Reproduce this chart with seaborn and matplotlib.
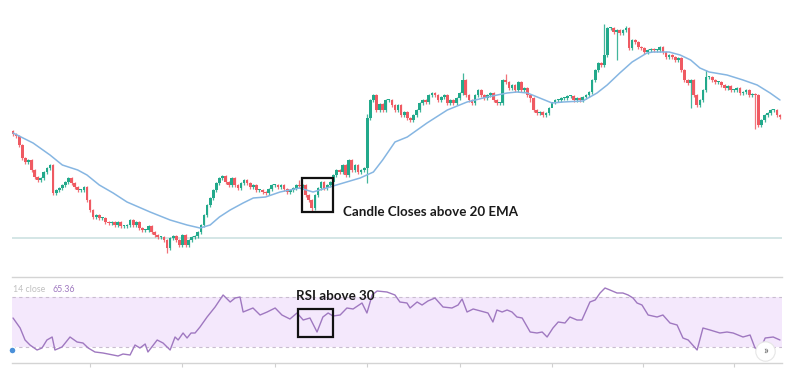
import matplotlib
matplotlib.use("Agg")
import matplotlib.pyplot as plt
import pandas as pd
import seaborn as sns

# candle closes (price units), left to right
closes = [
    126, 124, 115, 102, 98, 100, 90, 83, 80, 82, 88, 92, 95, 67, 70, 72, 75, 78, 82, 77,
    73, 70, 70, 73, 60, 50, 43, 45, 42, 42, 38, 37, 38, 35, 38, 34, 34, 35,
    40, 35, 38, 32, 30, 30, 34, 28, 25, 23, 23, 20, 12, 22, 24, 20, 15, 25, 15, 20,
    23, 24, 28, 35, 45, 55, 62, 70, 77, 82, 84, 78, 75, 82, 75, 72, 77, 80, 77, 73,
    75, 70, 70,
    68, 67, 71, 75, 75, 73, 75, 71, 68, 70, 72, 75, 74, 75, 65, 60, 52, 65, 72, 78,
    72, 75, 78, 85, 90, 88, 95, 85, 100, 90, 95, 88, 90, 92, 142, 160, 165, 150, 156, 150,
    160,
    160, 155, 150, 155, 145, 148, 142, 140, 145, 150, 157, 160, 158, 165, 167, 165, 160, 163, 165, 157,
    160, 157, 162, 167, 180, 165, 160, 157, 165, 170, 165, 162, 165, 167, 160, 157, 157, 180, 178, 172,
    175, 170, 178, 170, 172,
    165, 162, 150, 147, 148, 145, 147, 152, 158, 160, 160, 162, 162, 164, 164, 160, 162, 160, 163, 165,
    168, 180, 190, 197, 195, 205, 232, 232, 228, 230, 227, 230, 232, 212, 220, 218, 213, 212, 208, 210,
    211, 210, 210, 213, 208, 203, 205, 203, 200, 202, 190, 180, 177, 180, 165, 155, 160, 170, 183, 183,
    180, 178, 178, 175, 172, 174, 170, 170, 172, 167, 168, 170, 165, 166, 165, 135, 140, 145, 147, 150,
    150, 145, 143,
]
first_open = 129
long_highs = {93: 80, 115: 146, 146: 187, 160: 186, 192: 236, 199: 234, 225: 190, 175: 150}
long_lows = {50: 7, 115: 77, 97: 49, 168: 158, 196: 200, 220: 152, 241: 131}
support_level = 22

# 20 EMA samples (candle index, price)
ema_idx = [0, 6.5, 12, 16, 21, 24, 28, 32.5, 37, 44.5, 51, 56.5, 60.7, 64, 67, 70.5, 74.7, 78, 82, 86.7,
           93, 97.4, 105, 112.7, 117, 120, 124, 128, 134.4, 141, 147.4, 154, 160.4, 163.6, 167, 171, 175,
           178.6, 185, 189.6, 192.9, 197, 201, 205.8, 207.8, 213, 216.6, 220, 223, 226, 231.8, 237,
           241.6, 245.8, 249]
ema_val = [127, 117, 105, 95, 90, 85, 75, 67, 58, 48, 40, 35, 32, 35, 43, 50, 57, 62, 63, 68,
           72, 68, 75, 82, 88, 100, 118, 123, 137, 150, 158, 163, 167, 168, 167, 162, 157,
           158, 159, 167, 175, 187, 198, 207, 208, 208, 205, 200, 192, 188, 185, 180,
           175, 167, 160]

# RSI samples (candle index, value)
rsi_idx = [0, 2.3, 3.9, 5.5, 7.8, 9.4, 11, 12.7, 13.6, 15.9, 18.5, 20.8, 22.7, 24.4, 26.6, 29.2, 32.5,
           34.1, 35.7, 38, 39.6, 41.2, 42.9, 43.8, 46.8, 48.7, 51, 52.6, 53.6, 55.2, 56.5, 57.8, 59.1,
           60.7, 63, 65.6, 68.2, 70.5, 72.1, 73.7, 74.7, 77.9, 80.2, 82.5, 85.1, 87.3, 89.9, 92.2, 94.2,
           96.4, 98.7, 100.6, 102.3, 103.9, 106.2, 108.4, 110.4, 113.3, 114.9, 116.6, 118.2, 121.4, 124,
           125.6, 127.9, 128.9, 131.2, 132.8, 134.7, 137, 139.6, 142.5, 144.5, 145.8, 147.4, 149.4,
           154.2, 155.8, 157.1, 158.8, 160.4, 162, 163.6, 165.3, 167.9, 170.1, 171.8, 173.4, 175.3, 177,
           179.2, 180.8, 183.1, 184.7, 187.3, 189, 190.6, 192.2, 193.8, 196.1, 198, 199.7, 201.3, 202.6,
           204.2, 206.2, 209.1, 211, 213.3, 215.6, 217.5, 219.2, 222.1, 224, 226.3, 229.5, 231.8, 233.8,
           237, 239.3, 240.9, 242.5, 244.2, 246.8, 249]
rsi_val = [53.2, 45.2, 35.6, 31.6, 27.6, 29.2, 35.6, 38, 27.6, 30, 38, 34, 33.2, 29.2, 26, 25.2, 23.6,
           22.8, 24.4, 23.6, 31.6, 29.2, 32.4, 26, 35.6, 33.2, 27.6, 38, 35.6, 41.2, 37.2, 41.2, 41.2,
           46, 54, 62, 71.6, 66, 69.2, 70, 58, 61.2, 55.6, 58, 61.2, 55.6, 52.4, 57.2, 51.6,
           53.2, 42, 54, 57.2, 54.8, 55.6, 61.2, 60.4, 65.2, 57.2, 71.6, 74.8, 74, 71.6,
           66, 65.2, 61.2, 66, 63.6, 66.8, 69.2, 62, 61.2, 63.6, 68.4, 58, 60.4,
           57.2, 50, 59.6, 58, 59.6, 58, 54, 53.2, 42, 41.2, 42, 38, 45.2, 50,
           49.2, 54, 51.6, 51.6, 66, 67.6, 73.2, 77.2, 75.6, 73.2, 73.2, 71.6, 69.2, 65.2,
           63.6, 55.6, 54, 55.6, 49.2, 47.6, 37.2, 35.6, 27.6, 45.2, 43.6, 41.2, 42, 41.2,
           38, 39.6, 29.2, 27.6, 37.2, 38, 35.6]
rsi_upper, rsi_lower = 70, 30
rsi_label = "14 close"
rsi_last = "65.36"
time_ticks = [25, 55, 85, 115, 145, 175, 204.5, 234]

GREEN = "#22a98b"
RED = "#ef5a62"
PURPLE = "#9f78c0"

sns.set_style("white")
plt.rcParams["font.family"] = ["Lato", "DejaVu Sans"]

n = len(closes)
opens = [first_open] + closes[:-1]
df = pd.DataFrame({"i": range(n), "open": opens, "close": closes})
df["top"] = df[["open", "close"]].max(axis=1)
df["bot"] = df[["open", "close"]].min(axis=1)
df["high"] = [long_highs.get(i, t + 1.5) for i, t in zip(df["i"], df["top"])]
df["low"] = [long_lows.get(i, b - 1.5) for i, b in zip(df["i"], df["bot"])]
df["color"] = [GREEN if c >= o else RED for o, c in zip(df["open"], df["close"])]
df["h"] = (df["top"] - df["bot"]).clip(lower=1.2)

W, H = 792, 369
fig = plt.figure(figsize=(W / 100, H / 100), dpi=100)
ax = fig.add_axes([11.5 / W, (H - 260) / H, 770 / W, 260 / H])
ax2 = fig.add_axes([11.5 / W, 6 / H, 770 / W, 86 / H])

# price panel
ax.axhline(support_level, color="#c9dfdf", lw=1.1, zorder=1)
ax.vlines(df["i"], df["low"], df["high"], colors=df["color"], lw=0.9, alpha=0.85, zorder=2)
ax.bar(df["i"], df["h"], bottom=df["bot"], width=0.88, color=df["color"], lw=0, zorder=3)
sns.lineplot(x=ema_idx, y=ema_val, ax=ax, color="#86b6e2", lw=1.1, zorder=4)
ax.add_patch(plt.Rectangle((93.8, 48), 10.1, 34, fill=False, ec="#111111", lw=1.6, zorder=5))
ax.text(107.1, 48, "Candle Closes above 20 EMA", fontsize=9.6, fontweight="bold",
        color="#1a1a1a", va="center", ha="left")
ax.set_xlim(-0.5, n - 0.5)
ax.set_ylim(0, 260)
ax.axis("off")

# RSI panel
ax2.axhspan(rsi_lower, rsi_upper, color="#f4e8fc", lw=0, zorder=0)
ax2.axhline(rsi_upper, color="#c9bdd0", lw=0.8, ls=(0, (3, 3)), zorder=1)
ax2.axhline(rsi_lower, color="#c9bdd0", lw=0.8, ls=(0, (3, 3)), zorder=1)
sns.lineplot(x=rsi_idx, y=rsi_val, ax=ax2, color=PURPLE, lw=1.0, zorder=3)
ax2.add_patch(plt.Rectangle((92.5, 38), 11.4, 22.4, fill=False, ec="#111111", lw=1.6, zorder=5))
ax2.text(91.9, 71.2, "RSI above 30", fontsize=9.6, fontweight="bold", color="#1a1a1a",
         va="center", ha="left", zorder=6)
ax2.text(0.002, 0.86, rsi_label, transform=ax2.transAxes, fontsize=6.3, color="#c0c0c0",
         va="center", ha="left")
ax2.text(0.053, 0.86, rsi_last, transform=ax2.transAxes, fontsize=6.3, color=PURPLE,
         va="center", ha="left")
ax2.plot([244.2], [26.8], "o", ms=14, mfc="white", mec="#e6e6e6", mew=0.8, zorder=6)
ax2.text(244.2, 27.2, "»", fontsize=8, color="#555555", ha="center", va="center", zorder=7)
ax2.plot([-0.5], [27.6], "o", ms=5, mfc="#4a90d9", mec="white", mew=1, zorder=6, clip_on=False)
ax2.set_xlim(-0.5, n - 0.5)
ax2.set_ylim(17.2, 86)
ax2.set_xticks(time_ticks)
ax2.set_xticklabels([])
ax2.set_yticks([])
ax2.tick_params(axis="x", direction="out", length=3, color="#d0d0d0", bottom=True)
for s in ["left", "right"]:
    ax2.spines[s].set_visible(False)
for s in ["top", "bottom"]:
    ax2.spines[s].set_color("#d4d4d4")
    ax2.spines[s].set_linewidth(1.0)
ax2.set_xlabel("")
ax2.set_ylabel("")

fig.savefig("out.png", dpi=100)
